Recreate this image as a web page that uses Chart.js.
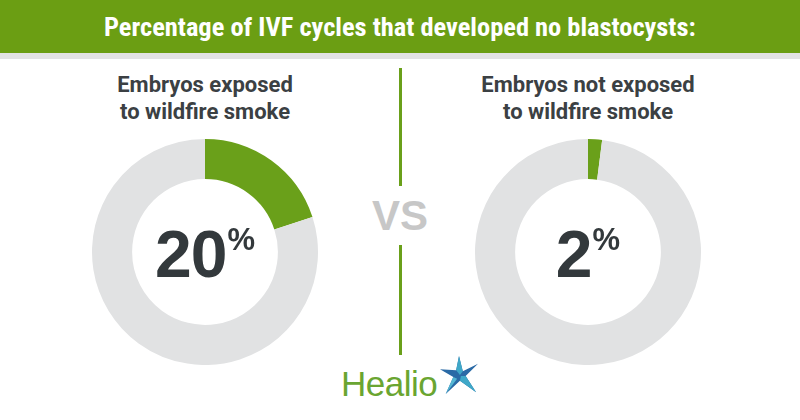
<!DOCTYPE html>
<html>
<head>
<meta charset="utf-8">
<script src="https://cdn.jsdelivr.net/npm/chart.js@4.4.1/dist/chart.umd.min.js"></script>
<style>
  html, body { margin: 0; padding: 0; background: #ffffff; }
  #wrap { position: relative; width: 800px; height: 420px; overflow: hidden; background: #fff; font-family: Roboto, "Liberation Sans", Arial, sans-serif; }
  #header { position: absolute; left: 0; top: 0; width: 800px; height: 53px; background: #6b9e13; }
  #strip { position: absolute; left: 0; top: 53px; width: 800px; height: 6px; background: #e3e3e3; }
  #title { position: absolute; left: 400px; top: 12px; white-space: nowrap; color: #fff; font-family: "Roboto Condensed", "Liberation Sans Narrow", "DejaVu Sans Condensed", "DejaVu Sans", sans-serif; font-stretch: condensed; font-weight: 700; font-size: 25px; line-height: 32px; transform-origin: 0 0; }
  .label { position: absolute; width: 300px; text-align: center; color: #3b4043; font-weight: 700; font-size: 22px; line-height: 27px; top: 71px; }
  .donut { position: absolute; top: 139px; }
  .big { position: absolute; top: 214px; width: 200px; text-align: center; color: #33393c; font-family: "Liberation Sans", Arial, sans-serif; font-weight: 700; font-size: 66px; line-height: 80px; letter-spacing: -1px; }
  .big sup { font-size: 31px; vertical-align: top; position: relative; top: -14px; margin-left: 1px; letter-spacing: 0; }
  .vline { position: absolute; left: 399px; width: 3px; background: #6aa01a; }
  #vs { position: absolute; left: 350px; width: 100px; top: 190px; text-align: center; color: #c7c7c7; font-family: "Liberation Sans", Arial, sans-serif; font-weight: 700; font-size: 42px; line-height: 52px; }
  #logo { position: absolute; left: 341px; top: 362px; color: #6aa531; font-family: "Liberation Sans", Arial, sans-serif; font-size: 35px; line-height: 44px; letter-spacing: -0.5px; }
  #star { position: absolute; left: 440px; top: 356px; }
</style>
</head>
<body>
<div id="wrap">
  <div id="header"></div>
  <div id="strip"></div>
  <div id="title">Percentage of IVF cycles that developed no blastocysts:</div>

  <div class="label" id="label0" style="left:55px;"></div>
  <div class="label" id="label1" style="left:438px;"></div>

  <canvas id="c0" class="donut" width="226" height="226" style="left:92px;"></canvas>
  <canvas id="c1" class="donut" width="226" height="226" style="left:475px;"></canvas>

  <div class="big" id="big0" style="left:105px;"></div>
  <div class="big" id="big1" style="left:488px;"></div>

  <div class="vline" style="top:68px;height:118px;"></div>
  <div class="vline" style="top:245px;height:110px;"></div>
  <div id="vs">VS</div>

  <div id="logo">Healio</div>
  <svg id="star" width="38" height="40" viewBox="0 0 40 42">
    <polygon points="20,0 24,16 40,8 27,21 38,38 21,26 6,40 14,22 0,14 17,15" fill="#2a6aa6"/>
    <polygon points="20,0 24,16 21,20 17,15" fill="#3fa8c8"/>
    <polygon points="27,21 38,38 21,26 22,21" fill="#3fa8c8"/>
    <polygon points="14,22 6,40 18,24" fill="#55b7d3"/>
  </svg>
</div>
<script>
// ---- data ----
const categories = [["Embryos exposed", "to wildfire smoke"], ["Embryos not exposed", "to wildfire smoke"]];
const noBlastocystPct = [20, 2];
const segmentLabels = ["No blastocysts", "Other cycles"];
const segmentColors = ["#6aa01a", "#e1e2e3"];

// fit the condensed title to its width in the reference
(function () {
  const t = document.getElementById('title');
  const w = t.offsetWidth;
  const target = 592;
  const s = target / w;
  t.style.transform = 'translateX(' + (-target / 2) + 'px) scaleX(' + s + ')';
})();

categories.forEach((lines, i) => {
  document.getElementById('label' + i).innerHTML = lines.join('<br>');
  document.getElementById('big' + i).innerHTML = noBlastocystPct[i] + '<sup>%</sup>';
  new Chart(document.getElementById('c' + i), {
    type: 'doughnut',
    data: {
      labels: segmentLabels,
      datasets: [{
        data: [noBlastocystPct[i], 100 - noBlastocystPct[i]],
        backgroundColor: segmentColors,
        borderWidth: 0,
        hoverOffset: 0
      }]
    },
    options: {
      responsive: false,
      animation: false,
      cutout: '64.5%',
      layout: { padding: 0 },
      plugins: { legend: { display: false }, tooltip: { enabled: false } },
      events: []
    }
  });
});
</script>
</body>
</html>
